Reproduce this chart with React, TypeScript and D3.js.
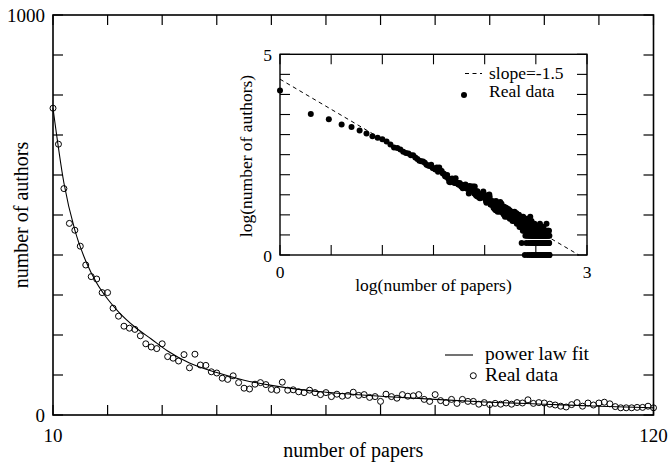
import React from 'react';
import * as d3 from 'd3';

// ---------- main chart data ----------
const papers: number[] = d3.range(10, 121);
const authors: number[] = [
  767, 677, 566, 479, 462, 422, 375, 346, 340, 306,
  306, 267, 247, 222, 217, 214, 198, 178, 170, 166,
  178, 146, 142, 135, 151, 118, 152, 125, 124, 108,
  105, 92, 89, 98, 81, 67, 65, 77, 81, 76,
  64, 62, 82, 62, 63, 58, 56, 62, 56, 51,
  56, 46, 52, 47, 49, 57, 49, 51, 44, 46,
  34, 52, 46, 42, 51, 47, 48, 51, 39, 34,
  51, 36, 31, 39, 29, 39, 34, 34, 27, 31,
  26, 29, 27, 30, 27, 31, 30, 38, 29, 31,
  30, 27, 25, 22, 20, 26, 31, 22, 30, 25,
  30, 32, 28, 21, 18, 18, 18, 19, 19, 22,
  18,
];
const fitX: number[] = [10, 12, 14, 16, 18, 20, 22, 25, 28, 31, 35, 40, 45, 50, 55, 60, 70, 80, 90, 100, 110, 120];
const fitY: number[] = [767, 580, 462, 385, 330, 290, 258, 220, 190, 160, 130, 106, 87, 74, 64, 57, 47, 39, 32, 27, 22, 18];

const mainXTicks: number[] = [10, 20, 30, 40, 50, 60, 70, 80, 90, 100, 110, 120];
const mainYTicks: number[] = [0, 100, 200, 300, 400, 500, 600, 700, 800, 900, 1000];
const mainXLabels: number[] = [10, 120];
const mainYLabels: number[] = [0, 1000];

// ---------- inset data (counts vs number of papers) ----------
const headPapers: number[] = [1, 2, 3, 4, 5, 6, 7, 8, 9];
const headAuthors: number[] = [12600, 3240, 2400, 1780, 1550, 1260, 1070, 912, 832];
const tailStart = 121;
const tailAuthors: number[] = [
  18, 15, 21, 16, 14, 19, 17, 13, 22, 15,
  16, 14, 20, 12, 17, 15, 13, 18, 14, 16,
  12, 21, 15, 13, 14, 19, 13, 12, 16, 14,
  11, 15, 13, 10, 16, 12, 14, 9, 13, 11,
  12, 15, 10, 14, 11, 9, 13, 12, 10, 14,
  11, 9, 12, 10, 13, 8, 11, 12, 9, 10,
  12, 9, 10, 8, 12, 11, 7, 10, 9, 11,
  8, 11, 9, 10, 7, 12, 9, 8, 10, 11,
  8, 10, 7, 11, 9, 6, 10, 8, 7, 9,
  10, 7, 8, 6, 9, 10, 7, 8, 5, 9,
  7, 8, 6, 9, 7, 5, 8, 6, 9, 2,
  6, 7, 5, 8, 6, 4, 7, 9, 5, 6,
  7, 5, 6, 4, 8, 6, 1, 5, 7, 3,
  6, 4, 5, 7, 2, 5, 6, 4, 8, 3,
  5, 6, 1, 4, 7, 5, 3, 6, 4, 2,
  5, 7, 4, 3, 6, 1, 5, 4, 9, 3,
  4, 6, 2, 5, 3, 4, 7, 1, 5, 3,
  4, 2, 6, 3, 5, 4, 1, 3, 6, 2,
  4, 3, 5, 1, 4, 2, 6, 3, 4, 1,
  3, 5, 2, 4, 3, 1, 5, 2, 4, 3,
  2, 4, 1, 3, 5, 2, 3, 4, 1, 3,
  4, 2, 3, 1, 5, 3, 2, 4, 3, 1,
  3, 2, 4, 1, 3, 2, 6, 1, 3, 2,
  1, 3, 2, 4, 1, 2, 3, 1, 5, 2,
  3, 1, 2, 4, 2, 1, 3, 2, 1, 4,
  2, 1, 3, 2, 1, 5, 2, 1, 3, 2,
  1, 2, 3, 1, 2, 4, 1, 2, 1, 3,
  2, 1, 2, 3, 1, 2, 1, 3, 2, 1,
  2, 6, 3, 1, 2, 1, 2, 4, 1, 2,
  1, 2, 1, 3, 1, 2, 1, 4, 2, 1,
  3, 1, 2, 1, 4, 1, 2, 1, 3, 1,
];
const slopeX: number[] = [0, 2.92];
const slopeY: number[] = [4.38, 0];
const insetXTicks: number[] = [0, 0.5, 1, 1.5, 2, 2.5, 3];
const insetYTicks: number[] = [0, 0.5, 1, 1.5, 2, 2.5, 3, 3.5, 4, 4.5, 5];
const insetXLabels: number[] = [0, 3];
const insetYLabels: number[] = [0, 5];

const FONT = '"Liberation Serif", "Times New Roman", serif';

export default function App() {
  const W = 668, H = 462;
  const x = d3.scaleLinear().domain([10, 120]).range([53, 653.5]);
  const y = d3.scaleLinear().domain([0, 1000]).range([415, 15]);
  const ix = d3.scaleLinear().domain([0, 3]).range([280, 587]);
  const iy = d3.scaleLinear().domain([0, 5]).range([255, 54.3]);

  const fitLine = d3.line<number>()
    .x((_, i) => x(fitX[i]))
    .y((d) => y(d))
    .curve(d3.curveMonotoneX)(fitY) as string;

  const insetPts: [number, number][] = [];
  headPapers.forEach((p, i) => insetPts.push([p, headAuthors[i]]));
  papers.forEach((p, i) => insetPts.push([p, authors[i]]));
  tailAuthors.forEach((a, i) => insetPts.push([tailStart + i, a]));

  const tickLen = 10;
  const [mx0, mx1] = x.range();
  const [my0, my1] = y.range();
  const [ix0, ix1] = ix.range();
  const [iy0, iy1] = iy.range();

  return (
    <svg width={W} height={H} style={{ position: 'absolute', left: 0, top: 0, background: '#fff' }} fontFamily={FONT}>
      <rect x={0} y={0} width={W} height={H} fill="#fff" />
      {/* main frame */}
      <rect x={mx0} y={my1} width={mx1 - mx0} height={my0 - my1} fill="none" stroke="#000" strokeWidth={1.6} />
      {mainXTicks.map((t) => (
        <g key={'mxt' + t}>
          <line x1={x(t)} x2={x(t)} y1={my0} y2={my0 - tickLen} stroke="#000" strokeWidth={1.2} />
          <line x1={x(t)} x2={x(t)} y1={my1} y2={my1 + tickLen} stroke="#000" strokeWidth={1.2} />
        </g>
      ))}
      {mainYTicks.map((t) => (
        <g key={'myt' + t}>
          <line x1={mx0} x2={mx0 + tickLen} y1={y(t)} y2={y(t)} stroke="#000" strokeWidth={1.2} />
          <line x1={mx1} x2={mx1 - tickLen} y1={y(t)} y2={y(t)} stroke="#000" strokeWidth={1.2} />
        </g>
      ))}
      {mainXLabels.map((t) => (
        <text key={'mxl' + t} x={x(t)} y={441.5} fontSize={19} textAnchor="middle">{t}</text>
      ))}
      {mainYLabels.map((t) => (
        <text key={'myl' + t} x={45} y={y(t) + 6.7} fontSize={19} textAnchor="end">{t}</text>
      ))}
      <text x={(mx0 + mx1) / 2} y={457} fontSize={20} textAnchor="middle">number of papers</text>
      <text transform={`translate(27.5,215) rotate(-90)`} fontSize={20} textAnchor="middle">number of authors</text>

      {/* fit line */}
      <path d={fitLine} fill="none" stroke="#000" strokeWidth={1.1} />
      {/* data circles */}
      {papers.map((p, i) => (
        <circle key={'c' + p} cx={x(p)} cy={y(authors[i])} r={3} fill="none" stroke="#000" strokeWidth={1} />
      ))}

      {/* main legend */}
      <line x1={445} x2={473} y1={355} y2={355} stroke="#000" strokeWidth={1.1} />
      <text x={485} y={359.5} fontSize={19.5}>power law fit</text>
      <circle cx={473.3} cy={375.7} r={3} fill="none" stroke="#000" strokeWidth={1} />
      <text x={485} y={381} fontSize={19.5}>Real data</text>

      {/* inset */}
      <rect x={ix0} y={iy1} width={ix1 - ix0} height={iy0 - iy1} fill="none" stroke="#000" strokeWidth={1.4} />
      {insetXTicks.map((t) => (
        <g key={'ixt' + t}>
          <line x1={ix(t)} x2={ix(t)} y1={iy0} y2={iy0 - tickLen} stroke="#000" strokeWidth={1.1} />
          <line x1={ix(t)} x2={ix(t)} y1={iy1} y2={iy1 + tickLen} stroke="#000" strokeWidth={1.1} />
        </g>
      ))}
      {insetYTicks.map((t) => (
        <g key={'iyt' + t}>
          <line x1={ix0} x2={ix0 + tickLen} y1={iy(t)} y2={iy(t)} stroke="#000" strokeWidth={1.1} />
          <line x1={ix1} x2={ix1 - tickLen} y1={iy(t)} y2={iy(t)} stroke="#000" strokeWidth={1.1} />
        </g>
      ))}
      {insetXLabels.map((t) => (
        <text key={'ixl' + t} x={ix(t)} y={278} fontSize={17.5} textAnchor="middle">{t}</text>
      ))}
      {insetYLabels.map((t) => (
        <text key={'iyl' + t} x={272} y={iy(t) + 6.5} fontSize={17.5} textAnchor="end">{t}</text>
      ))}
      <text x={(ix0 + ix1) / 2} y={291} fontSize={17.5} textAnchor="middle">log(number of papers)</text>
      <text transform={`translate(252,156) rotate(-90)`} fontSize={17.5} textAnchor="middle">log(number of authors)</text>

      <line x1={ix(slopeX[0])} y1={iy(slopeY[0])} x2={ix(slopeX[1])} y2={iy(slopeY[1])} stroke="#000" strokeWidth={1} strokeDasharray="4,3.5" />
      {insetPts.map(([p, a], i) => (
        <circle key={'d' + i} cx={ix(Math.log10(p))} cy={iy(Math.log10(a))} r={3} fill="#000" />
      ))}

      {/* inset legend */}
      <line x1={465} x2={482} y1={73.5} y2={73.5} stroke="#000" strokeWidth={1} strokeDasharray="4,3.5" />
      <text x={489} y={78.5} fontSize={17.5}>slope=-1.5</text>
      <circle cx={464} cy={95} r={3} fill="#000" />
      <text x={489} y={97} fontSize={17.5}>Real data</text>
    </svg>
  );
}
